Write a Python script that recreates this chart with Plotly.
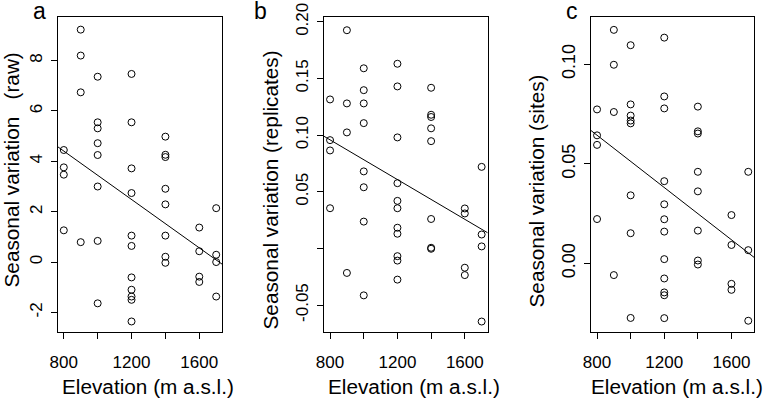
import plotly.graph_objects as go

# ---------------- data ----------------
elev_a = [800]*4 + [900]*4 + [1000]*8 + [1200]*11 + [1400]*8 + [1600]*4 + [1700]*4
raw_a = [4.45, 3.76, 3.47, 1.26,
         9.23, 8.20, 6.74, 0.79,
         7.36, 5.55, 5.31, 4.72, 4.25, 3.00, 0.84, -1.64,
         7.47, 5.55, 3.72, 2.74, 1.05, 0.64, -0.61, -1.10, -1.37, -1.50, -2.36,
         4.98, 4.26, 4.17, 2.91, 2.29, 1.05, 0.21, -0.03,
         1.37, 0.43, -0.58, -0.79,
         2.14, 0.29, 0.00, -1.37]

elev_b = [800]*4 + [900]*4 + [1000]*8 + [1200]*11 + [1400]*8 + [1600]*4 + [1700]*4
rep_b = [0.1315, 0.0956, 0.0865, 0.0355,
         0.1926, 0.1280, 0.1024, -0.0216,
         0.1590, 0.1397, 0.1280, 0.1106, 0.0680, 0.0540, 0.0237, -0.0414,
         0.1630, 0.1430, 0.0980, 0.0576, 0.0420, 0.0355, 0.0183, 0.0130, -0.0068, -0.0107, -0.0275,
         0.1418, 0.1180, 0.1160, 0.1060, 0.0947, 0.0260, 0.0006, -0.0003,
         0.0353, 0.0309, -0.0170, -0.0235,
         0.0720, 0.0123, 0.0018, -0.0645]

elev_c = [800]*4 + [900]*4 + [1000]*8 + [1200]*12 + [1400]*8 + [1600]*4 + [1700]*3
sites_c = [0.0773, 0.0643, 0.0595, 0.0223,
           0.1172, 0.0997, 0.0760, -0.0058,
           0.1095, 0.0798, 0.0742, 0.0717, 0.0703, 0.0342, 0.0152, -0.0273,
           0.1133, 0.0838, 0.0778, 0.0413, 0.0297, 0.0222, 0.0160, 0.0022, -0.0075, -0.0145, -0.0159, -0.0274,
           0.0787, 0.0663, 0.0652, 0.0460, 0.0362, 0.0165, 0.0015, -0.0005,
           0.0243, 0.0093, -0.0102, -0.0132,
           0.0460, 0.0067, -0.0287]

# fitted regression lines (values at the plot edges)
trend_x = [764, 1736]
trend_a = [4.58, -0.09]
trend_b = [0.0990, 0.0138]
trend_c = [0.0667, 0.0030]

x_ticks = [800, 1000, 1200, 1400, 1600]
x_ticktext = ["800", "", "1200", "", "1600"]
ya_ticks = [-2, 0, 2, 4, 6, 8]
ya_text = ["-2", "0", "2", "4", "6", "8"]
yb_ticks = [-0.05, 0.0, 0.05, 0.10, 0.15, 0.20]
yb_text = ["-0.05", "", "0.05", "0.10", "0.15", "0.20"]
yc_ticks = [0.0, 0.05, 0.10]
yc_text = ["0.00", "0.05", "0.10"]

x_title = "Elevation (m a.s.l.)"
y_titles = ["Seasonal variation\u00a0\u00a0\u00a0(raw)",
            "Seasonal variation (replicates)",
            "Seasonal variation (sites)"]
letters = ["a", "b", "c"]

# ---------------- layout geometry (pixels) ----------------
W, H = 764, 400
FONT = "Arial, Liberation Sans, Helvetica, sans-serif"
TITLE_FS = 20.75
panels_px = [(57.7, 222.3), (324.0, 487.7), (591.0, 754.3)]
top_px, bot_px = 17.3, 332.3
y_ranges = [[-2.79, 9.72], [-0.0740, 0.2040], [-0.0345, 0.1235]]
x_range = [764, 1736]
ytitle_pos = [(10.5, 170), (269.5, 190), (535.5, 191)]
xtitle_x = [148, 414, 677]
letter_x = [31, 252, 564]

fig = go.Figure()
series = [(elev_a, raw_a, trend_a), (elev_b, rep_b, trend_b), (elev_c, sites_c, trend_c)]
for i, (ex, ey, tr) in enumerate(series):
    sfx = "" if i == 0 else str(i + 1)
    fig.add_trace(go.Scatter(x=ex, y=ey, mode="markers", xaxis="x" + sfx, yaxis="y" + sfx,
                             marker=dict(symbol="circle-open", size=7, color="black",
                                         line=dict(width=1, color="black")),
                             showlegend=False, cliponaxis=False))
    fig.add_trace(go.Scatter(x=trend_x, y=tr, mode="lines", xaxis="x" + sfx, yaxis="y" + sfx,
                             line=dict(color="black", width=1), showlegend=False))

ytick_sets = [(ya_ticks, ya_text, 17), (yb_ticks, yb_text, 17), (yc_ticks, yc_text, 18)]
layout = dict(width=W, height=H, margin=dict(l=0, r=0, t=0, b=0, autoexpand=False),
              paper_bgcolor="white", plot_bgcolor="white",
              font=dict(family=FONT, color="black"), annotations=[])
for i, (x0, x1) in enumerate(panels_px):
    sfx = "" if i == 0 else str(i + 1)
    tv, tt, tfs = ytick_sets[i]
    layout["xaxis" + sfx] = dict(domain=[x0 / W, x1 / W], range=x_range, anchor="y" + sfx,
                                 automargin=False,
                                 showgrid=False, zeroline=False, showline=True, mirror=True,
                                 linecolor="black", linewidth=1, ticks="outside", ticklen=6,
                                 tickwidth=1, tickcolor="black", tickvals=x_ticks,
                                 ticktext=x_ticktext, tickfont=dict(size=17),
                                 ticklabelstandoff=8)
    layout["yaxis" + sfx] = dict(domain=[1 - bot_px / H, 1 - top_px / H], range=y_ranges[i],
                                 anchor="x" + sfx, automargin=False,
                                 showgrid=False, zeroline=False,
                                 showline=True, mirror=True, linecolor="black", linewidth=1,
                                 ticks="outside", ticklen=6, tickwidth=1, tickcolor="black",
                                 tickvals=tv, ticktext=tt, tickangle=-90,
                                 tickfont=dict(size=tfs), ticklabelstandoff=2)
    layout["annotations"].append(dict(text=x_title, x=xtitle_x[i] / W, y=1 - 386.4 / H,
                                      xref="paper", yref="paper", xanchor="center",
                                      yanchor="middle", showarrow=False,
                                      font=dict(size=TITLE_FS)))
    tx, ty = ytitle_pos[i]
    layout["annotations"].append(dict(text=y_titles[i], x=tx / W, y=1 - ty / H,
                                      xref="paper", yref="paper", xanchor="center",
                                      yanchor="middle", textangle=-90, showarrow=False,
                                      font=dict(size=TITLE_FS)))
    layout["annotations"].append(dict(text=letters[i], x=letter_x[i] / W, y=1 - 11 / H,
                                      xref="paper", yref="paper", xanchor="left",
                                      yanchor="middle", showarrow=False, font=dict(size=23)))
fig.update_layout(**layout)
fig.write_html("out.html", post_script="document.body.style.margin='0';",
               config={"displayModeBar": False})
